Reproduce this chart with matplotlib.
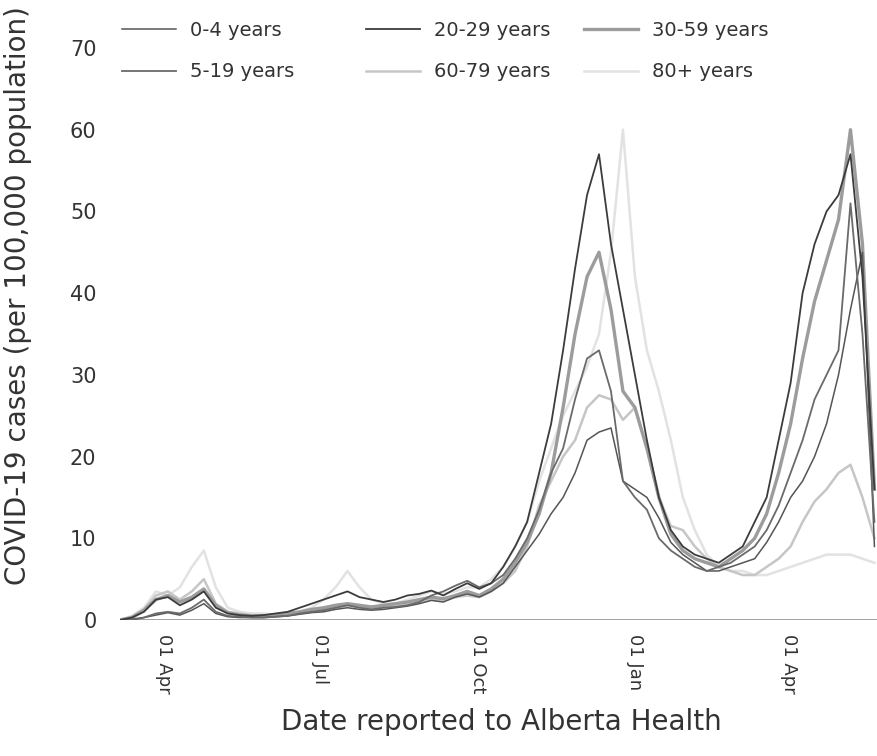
import pandas as pd
import matplotlib
matplotlib.use("Agg")
import matplotlib.pyplot as plt
import matplotlib.dates as mdates

# weekly dates, 6 Mar 2020 to 21 May 2021
dates = pd.date_range("2020-03-06", "2021-05-21", freq="7D")

age_groups = ["0-4 years", "5-19 years", "20-29 years", "30-59 years", "60-79 years", "80+ years"]

# cases per 100,000 population
cases_0_4 = [0, 0, 0.3, 0.6, 0.9, 0.6, 1.2, 2.0, 0.8, 0.4, 0.3, 0.3, 0.3, 0.4, 0.5, 0.7,
             0.9, 1.0, 1.3, 1.5, 1.3, 1.2, 1.3, 1.5, 1.7, 2.0, 2.4, 2.2, 2.8, 3.2,
             2.8, 3.5, 4.5, 6.5, 8.5, 10.5, 13, 15, 18, 22, 23, 23.5, 17, 16, 15, 12.5,
             9.5, 8, 7, 6, 6, 6.5, 7, 7.5, 9.5, 12, 15, 17, 20, 24, 30, 38, 45, 9]
cases_5_19 = [0, 0.1, 0.3, 0.8, 1.0, 0.8, 1.5, 2.5, 1.0, 0.5, 0.4, 0.3, 0.3, 0.4, 0.5, 0.8,
              1.0, 1.2, 1.5, 1.8, 1.5, 1.3, 1.5, 1.6, 1.8, 2.2, 3.0, 3.5, 4.2, 4.8,
              4.0, 4.5, 5.5, 7.5, 10, 13.5, 18, 21, 27, 32, 33, 28, 17, 15, 13.5, 10,
              8.5, 7.5, 6.5, 6, 6.5, 7, 8, 9, 11, 14, 18, 22, 27, 30, 33, 51, 35, 12]
cases_20_29 = [0, 0.3, 1.0, 2.5, 2.8, 1.8, 2.5, 3.5, 1.5, 0.8, 0.6, 0.5, 0.6, 0.8, 1.0, 1.5,
               2.0, 2.5, 3.0, 3.5, 2.8, 2.5, 2.2, 2.5, 3.0, 3.2, 3.6, 3.0, 3.8, 4.5,
               3.8, 4.5, 6.5, 9, 12, 18, 24, 33, 43, 52, 57, 46, 38, 30, 22, 15,
               11, 9, 8, 7.5, 7, 8, 9, 12, 15, 22, 29, 40, 46, 50, 52, 57, 42, 16]
cases_30_59 = [0, 0.3, 1.2, 2.5, 3.0, 2.2, 2.8, 3.8, 1.8, 0.9, 0.6, 0.5, 0.5, 0.6, 0.8, 1.0,
               1.3, 1.5, 1.8, 2.0, 1.8, 1.6, 1.8, 2.0, 2.2, 2.5, 2.8, 2.6, 3.0, 3.5,
               3.0, 3.8, 5.0, 7.0, 9.5, 13, 18, 26, 35, 42, 45, 38, 28, 26, 21, 15,
               10.5, 8.5, 7.5, 7, 6.5, 7.5, 8.5, 10, 13, 18, 24, 32, 39, 44, 49, 60, 46, 16]
cases_60_79 = [0, 0.4, 1.3, 3.0, 3.5, 2.5, 3.5, 5.0, 2.0, 1.0, 0.8, 0.6, 0.5, 0.5, 0.6, 0.8,
               1.0, 1.2, 1.5, 1.8, 1.6, 1.5, 1.6, 1.8, 2.0, 2.2, 2.5, 2.4, 2.8, 3.0,
               2.8, 3.5, 4.5, 6, 9, 14, 17, 20, 22, 26, 27.5, 27, 24.5, 26, 21, 15,
               11.5, 11, 9, 7.5, 6.5, 6, 5.5, 5.5, 6.5, 7.5, 9, 12, 14.5, 16, 18, 19, 15, 10]
cases_80_plus = [0, 0.5, 1.5, 3.5, 3.0, 4.0, 6.5, 8.5, 4.0, 1.5, 1.0, 0.8, 0.8, 0.6, 0.7, 1.0,
                 1.5, 2.5, 4.0, 6.0, 4.0, 2.5, 2.0, 2.0, 2.5, 3.0, 3.5, 3.2, 3.5, 4.0,
                 4.0, 5, 6.5, 9, 12, 17, 21, 25, 28, 31, 35, 45, 60, 42, 33, 28,
                 22, 15, 11, 8, 6.5, 6, 6, 5.5, 5.5, 6, 6.5, 7, 7.5, 8, 8, 8, 7.5, 7]

series = [cases_0_4, cases_5_19, cases_20_29, cases_30_59, cases_60_79, cases_80_plus]
colors = ["#555555", "#6a6a6a", "#3c3c3c", "#9c9c9c", "#c6c6c6", "#e2e2e2"]
widths = [1.1, 1.3, 1.3, 2.4, 1.8, 1.8]

tick_dates = pd.to_datetime(["2020-04-01", "2020-07-01", "2020-10-01", "2021-01-01", "2021-04-01"])

fig = plt.figure(figsize=(8.78, 7.56), dpi=100)
ax = fig.add_axes([120 / 878, 136 / 756, 757 / 878, 572 / 756])

# lighter lines first so the darker ones sit on top
order = [5, 4, 3, 0, 1, 2]
handles = {}
for i in order:
    line, = ax.plot(dates, series[i], color=colors[i], lw=widths[i], label=age_groups[i])
    handles[i] = line

ax.axhline(0, color="#9a9a9a", lw=1.3, zorder=0)

ax.set_ylim(0, 70)
ax.set_xlim(pd.Timestamp("2020-03-06"), pd.Timestamp("2021-05-22 12:00"))
ax.set_yticks(range(0, 71, 10))
ax.set_xticks(tick_dates)
ax.xaxis.set_major_formatter(mdates.DateFormatter("%d %b"))
ax.tick_params(axis="y", length=0, pad=17, labelsize=15, labelcolor="#333333")
ax.tick_params(axis="x", length=0, pad=10, labelsize=13, labelcolor="#333333", labelrotation=-90)
for s in ax.spines.values():
    s.set_visible(False)

fig.text(18 / 878, 1 - 296 / 756, "COVID-19 cases (per 100,000 population)",
         rotation=90, ha="center", va="center", fontsize=20, color="#333333")
fig.text(501 / 878, 1 - 722 / 756, "Date reported to Alberta Health",
         ha="center", va="center", fontsize=20, color="#333333")

# legend: three columns placed separately (0-4/5-19, 20-29/60-79, 30-59/80+)
columns = [([0, 1], 122), ([2, 4], 366), ([3, 5], 584)]
for idx, x0 in columns:
    leg = fig.legend([handles[i] for i in idx], [age_groups[i] for i in idx],
                     loc="upper left", bbox_to_anchor=(x0 / 878, 1 - 21 / 756),
                     frameon=False, fontsize=14, handlelength=2.8, handletextpad=0.7,
                     labelspacing=1.15, borderpad=0, borderaxespad=0)
    for t in leg.get_texts():
        t.set_color("#333333")

fig.savefig("out.png", dpi=100)
